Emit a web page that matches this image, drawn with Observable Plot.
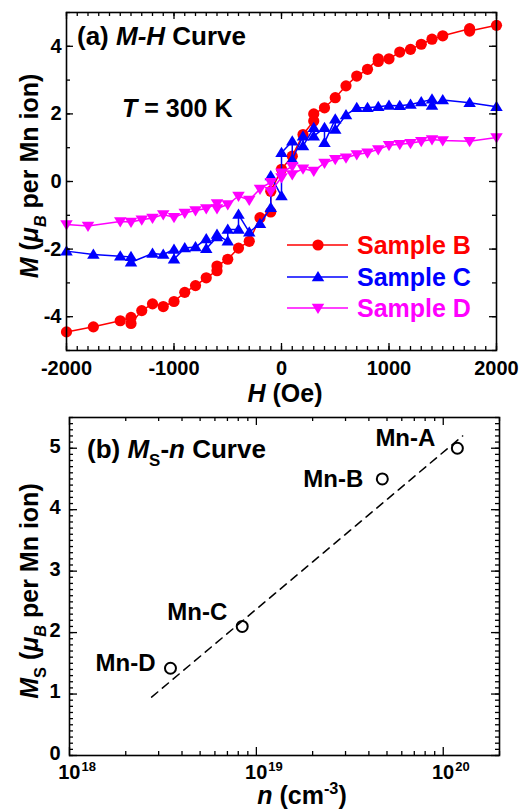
<!DOCTYPE html>
<html>
<head>
<meta charset="utf-8">
<script src="https://cdn.jsdelivr.net/npm/d3@7"></script>
<script src="https://cdn.jsdelivr.net/npm/@observablehq/plot@0.6"></script>
<style>
  html, body { margin: 0; padding: 0; background: #fff; }
  #chart { width: 519px; }
  #chart svg { display: block; }
</style>
</head>
<body>
<div id="chart"></div>
<script>
// ---------------- DATA ----------------
// Panel (a): M-H curves, H in Oe, M in μB per Mn ion
const sampleNames = ["Sample B", "Sample C", "Sample D"];

const H_B = [-2000, -1750, -1500, -1400, -1400, -1300, -1200, -1100, -1000, -900, -800, -700, -600, -600, -500, -400, -300, -200, -100, -100, 0, 100, 200, 300, 300, 400, 500, 600, 700, 800, 900, 900, 1000, 1100, 1200, 1300, 1400, 1500, 1750, 1750, 2000];
const M_B = [-4.45, -4.3, -4.12, -4.02, -4.2, -3.82, -3.62, -3.7, -3.55, -3.28, -3.08, -2.85, -2.64, -2.5, -2.3, -1.97, -1.77, -1.07, -0.9, -0.29, 0.36, 0.75, 1.39, 1.79, 2.0, 2.18, 2.48, 2.83, 3.12, 3.32, 3.63, 3.55, 3.63, 3.83, 3.91, 4.06, 4.21, 4.31, 4.52, 4.45, 4.62];

const H_C = [-2000, -1750, -1500, -1400, -1400, -1200, -1100, -1000, -1000, -900, -800, -700, -700, -600, -600, -500, -500, -400, -400, -300, -200, -100, -100, 0, 0, 100, 100, 200, 200, 300, 300, 400, 400, 500, 500, 600, 700, 800, 900, 1000, 1100, 1200, 1300, 1400, 1400, 1500, 1750, 2000];
const M_C = [-2.06, -2.16, -2.21, -2.23, -2.39, -2.13, -2.16, -2.01, -2.3, -1.97, -1.94, -1.7, -1.99, -1.64, -1.57, -1.77, -1.42, -1.42, -0.98, -1.5, -1.25, -0.78, 0.16, -0.43, 0.85, 1.19, 0.65, 1.34, 1.05, 1.59, 1.34, 1.59, 1.15, 1.84, 1.54, 1.97, 2.18, 2.18, 2.21, 2.25, 2.24, 2.28, 2.35, 2.43, 2.25, 2.41, 2.33, 2.21];

const H_D = [-2000, -1800, -1500, -1400, -1300, -1200, -1100, -1000, -900, -800, -700, -600, -600, -500, -400, -300, -200, -100, -100, 0, 0, 100, 100, 200, 300, 400, 500, 600, 700, 800, 900, 1000, 1100, 1200, 1300, 1400, 1500, 1750, 2000];
const M_D = [-1.27, -1.32, -1.18, -1.2, -1.13, -1.08, -0.98, -1.06, -0.93, -0.86, -0.8, -0.65, -0.8, -0.68, -0.43, -0.55, -0.22, -0.02, -0.29, 0.12, 0.26, 0.45, 0.21, 0.38, 0.31, 0.55, 0.66, 0.7, 0.8, 0.85, 0.95, 1.07, 1.1, 1.13, 1.19, 1.24, 1.21, 1.19, 1.3];

const tickH = [-2000, -1000, 0, 1000, 2000];
const tickM = [-4, -2, 0, 2, 4];

// Panel (b): Ms vs carrier density n
const mnNames = ["Mn-A", "Mn-B", "Mn-C", "Mn-D"];
const mnN = [1.19e20, 4.72e19, 8.4e18, 3.47e18];
const mnMs = [5.0, 4.5, 2.1, 1.42];
const fitN = [2.75e18, 1.27e20];
const fitMs = [0.95, 5.2];
const tickN = [1e18, 1e19, 1e20];
const tickMs = [0, 1, 2, 3, 4, 5];

// ---------------- HELPERS ----------------
const FONT = "'Liberation Sans', Arial, Helvetica, sans-serif";
const W = 519;

const triUp = {
  draw(ctx, size) {
    const r = Math.sqrt(size / Math.PI);
    ctx.moveTo(0, -1.2 * r);
    ctx.lineTo(1.25 * r, 0.85 * r);
    ctx.lineTo(-1.25 * r, 0.85 * r);
    ctx.closePath();
  }
};
const triDown = {
  draw(ctx, size) {
    const r = Math.sqrt(size / Math.PI);
    ctx.moveTo(0, 1.2 * r);
    ctx.lineTo(1.25 * r, -0.85 * r);
    ctx.lineTo(-1.25 * r, -0.85 * r);
    ctx.closePath();
  }
};

function tickMarks(xMinor, xMajor, yMinor, yMajor, iw, ih, minorLen, majorLen) {
  const st = {stroke: "black", strokeWidth: 1.3};
  return [
    Plot.tickX(xMinor, {x: d => d, insetTop: ih - minorLen, ...st}),
    Plot.tickX(xMinor, {x: d => d, insetBottom: ih - minorLen, ...st}),
    Plot.tickX(xMajor, {x: d => d, insetTop: ih - majorLen, ...st}),
    Plot.tickX(xMajor, {x: d => d, insetBottom: ih - majorLen, ...st}),
    Plot.tickY(yMinor, {y: d => d, insetRight: iw - minorLen, ...st}),
    Plot.tickY(yMinor, {y: d => d, insetLeft: iw - minorLen, ...st}),
    Plot.tickY(yMajor, {y: d => d, insetRight: iw - majorLen, ...st}),
    Plot.tickY(yMajor, {y: d => d, insetLeft: iw - majorLen, ...st})
  ];
}

// rich text: parts = [{t, i (italic), sub, sup}]
function richText(sel, x, y, parts, {size = 24, anchor = "start", rotate = 0, fill = "black"} = {}) {
  const t = sel.append("text")
    .attr("transform", `translate(${x},${y}) rotate(${rotate})`)
    .attr("text-anchor", anchor)
    .attr("font-family", FONT)
    .attr("font-weight", "bold")
    .attr("font-size", size)
    .attr("fill", fill);
  let shift = 0;
  for (const p of parts) {
    const ts = t.append("tspan").text(p.t);
    if (p.i) ts.attr("font-style", "italic");
    let target = 0;
    if (p.sub) target = size * 0.32;
    if (p.sup) target = -size * 0.42;
    if (p.sub || p.sup) ts.attr("font-size", size * 0.65);
    if (target !== shift) { ts.attr("dy", target - shift); shift = target; }
  }
  return t;
}

const chart = document.getElementById("chart");

// ---------------- PANEL (a) ----------------
const topH = 405;
const tM = {l: 66, r: 23, t: 12, b: 55};
const tIW = W - tM.l - tM.r;
const tIH = topH - tM.t - tM.b;

const series = [
  {H: H_B, M: M_B, color: "#ff0000", symbol: "circle", r: 5.6},
  {H: H_C, M: M_C, color: "#0000ff", symbol: triUp, r: 5},
  {H: H_D, M: M_D, color: "#ff00ff", symbol: triDown, r: 5}
];

const seriesMarks = series.flatMap(s => {
  const rows = s.H.map((h, i) => ({H: h, M: s.M[i]}));
  return [
    Plot.line(rows, {x: "H", y: "M", stroke: s.color, strokeWidth: 1.5}),
    Plot.dot(rows, {x: "H", y: "M", fill: s.color, symbol: s.symbol, r: s.r})
  ];
});

const plotA = Plot.plot({
  width: W, height: topH,
  marginLeft: tM.l, marginRight: tM.r, marginTop: tM.t, marginBottom: tM.b,
  x: {domain: [-2000, 2000]},
  y: {domain: [-5, 5]},
  style: {fontFamily: FONT, fontSize: "20px", fontWeight: "bold", color: "black", background: "transparent", overflow: "visible"},
  marks: [
    ...seriesMarks,
    ...tickMarks(d3.range(-2000, 2001, 100), tickH, d3.range(-5, 6, 1), tickM, tIW, tIH, 4, 7),
    Plot.frame({stroke: "black", strokeWidth: 1.6}),
    Plot.axisX({ticks: tickH, tickSize: 0, tickPadding: 10, tickFormat: d => String(d), fontSize: 20, label: null}),
    Plot.axisY({ticks: tickM, tickSize: 0, tickPadding: 5, tickFormat: d => String(d), fontSize: 20, label: null})
  ]
});
chart.appendChild(plotA);

{
  const svg = d3.select(plotA);
  const g = svg.append("g").attr("text-anchor", "start");
  richText(g, 77, 45, [{t: "(a) "}, {t: "M-H", i: true}, {t: " Curve"}], {size: 26});
  richText(g, 122, 117, [{t: "T", i: true}, {t: " = 300 K"}], {size: 25});
  richText(g, tM.l + tIW / 2 + 4, 402, [{t: "H", i: true}, {t: " (Oe)"}], {size: 25, anchor: "middle"});
  richText(g, 38, tM.t + tIH / 2 - 5, [{t: "M", i: true}, {t: " ("}, {t: "μ", i: true}, {t: "B", i: true, sub: true}, {t: " per Mn ion)"}], {size: 25, anchor: "middle", rotate: -90});

  // legend
  const ly = [245, 277, 308];
  series.forEach((s, k) => {
    const lg = g.append("g");
    lg.append("line").attr("x1", 287).attr("x2", 348).attr("y1", ly[k]).attr("y2", ly[k])
      .attr("stroke", s.color).attr("stroke-width", 1.5);
    const type = s.symbol === "circle" ? d3.symbolCircle : s.symbol;
    lg.append("path").attr("transform", `translate(318,${ly[k]})`)
      .attr("d", d3.symbol(type, Math.PI * s.r * s.r)()).attr("fill", s.color);
    lg.append("text").attr("x", 357).attr("y", ly[k]).attr("dy", "0.36em")
      .attr("text-anchor", "start")
      .attr("font-family", FONT).attr("font-weight", "bold").attr("font-size", 25)
      .attr("fill", s.color).text(sampleNames[k]);
  });
}

// ---------------- PANEL (b) ----------------
const botH = 405;
const bM = {l: 69, r: 20, t: 12, b: 55};
const bIW = W - bM.l - bM.r;
const bIH = botH - bM.t - bM.b;

const nMinor = [];
for (const dec of [1e18, 1e19]) for (let k = 2; k <= 9; k++) nMinor.push(k * dec);
nMinor.push(2e20);
const msMinor = d3.range(0, 56, 1).map(v => v / 10);

const mnRows = mnNames.map((name, i) => ({name, n: mnN[i], ms: mnMs[i]}));
const fitRows = fitN.map((n, i) => ({n, ms: fitMs[i]}));
const labelOffsets = [[-22, -10], [-19, 0], [-15, -14], [-15, -5]];

const plotB = Plot.plot({
  width: W, height: botH,
  marginLeft: bM.l, marginRight: bM.r, marginTop: bM.t, marginBottom: bM.b,
  x: {type: "log", domain: [1e18, 2e20], axis: null},
  y: {domain: [0, 5.5], axis: null},
  style: {fontFamily: FONT, fontSize: "20px", fontWeight: "bold", color: "black", background: "transparent", overflow: "visible"},
  marks: [
    ...tickMarks(nMinor, tickN, msMinor, tickMs, bIW, bIH, 4, 8),
    Plot.frame({stroke: "black", strokeWidth: 1.6}),
    Plot.axisY({ticks: tickMs, tickSize: 0, tickPadding: 9, tickFormat: d => String(d), fontSize: 20, label: null, dy: -2}),
    Plot.text(tickN, {x: d => d, frameAnchor: "bottom", text: () => "10", textAnchor: "end", lineAnchor: "bottom", dx: 11, dy: 23, fontSize: 20}),
    Plot.text(tickN, {x: d => d, frameAnchor: "bottom", text: d => String(Math.round(Math.log10(d))), textAnchor: "start", lineAnchor: "bottom", dx: 12, dy: 15, fontSize: 13}),
    Plot.line(fitRows, {x: "n", y: "ms", stroke: "black", strokeWidth: 1.5, strokeDasharray: "8,6"}),
    Plot.dot(mnRows, {x: "n", y: "ms", r: 5.5, stroke: "black", strokeWidth: 2, fill: "none"}),
    ...mnRows.map((row, i) => Plot.text([row], {x: "n", y: "ms", text: "name", textAnchor: "end", fontSize: 24, dx: labelOffsets[i][0], dy: labelOffsets[i][1]}))
  ]
});
chart.appendChild(plotB);

{
  const svg = d3.select(plotB);
  const g = svg.append("g").attr("text-anchor", "start");
  richText(g, 87, 53, [{t: "(b) "}, {t: "M", i: true}, {t: "S", sub: true}, {t: "-"}, {t: "n", i: true}, {t: " Curve"}], {size: 26});
  richText(g, 302, 399, [{t: "n", i: true}, {t: " (cm"}, {t: "-3", sup: true}, {t: ")"}], {size: 25, anchor: "middle"});
  richText(g, 38, bM.t + bIH / 2 + 5, [{t: "M", i: true}, {t: "S", sub: true}, {t: " ("}, {t: "μ", i: true}, {t: "B", i: true, sub: true}, {t: " per Mn ion)"}], {size: 25, anchor: "middle", rotate: -90});
}
</script>
</body>
</html>
